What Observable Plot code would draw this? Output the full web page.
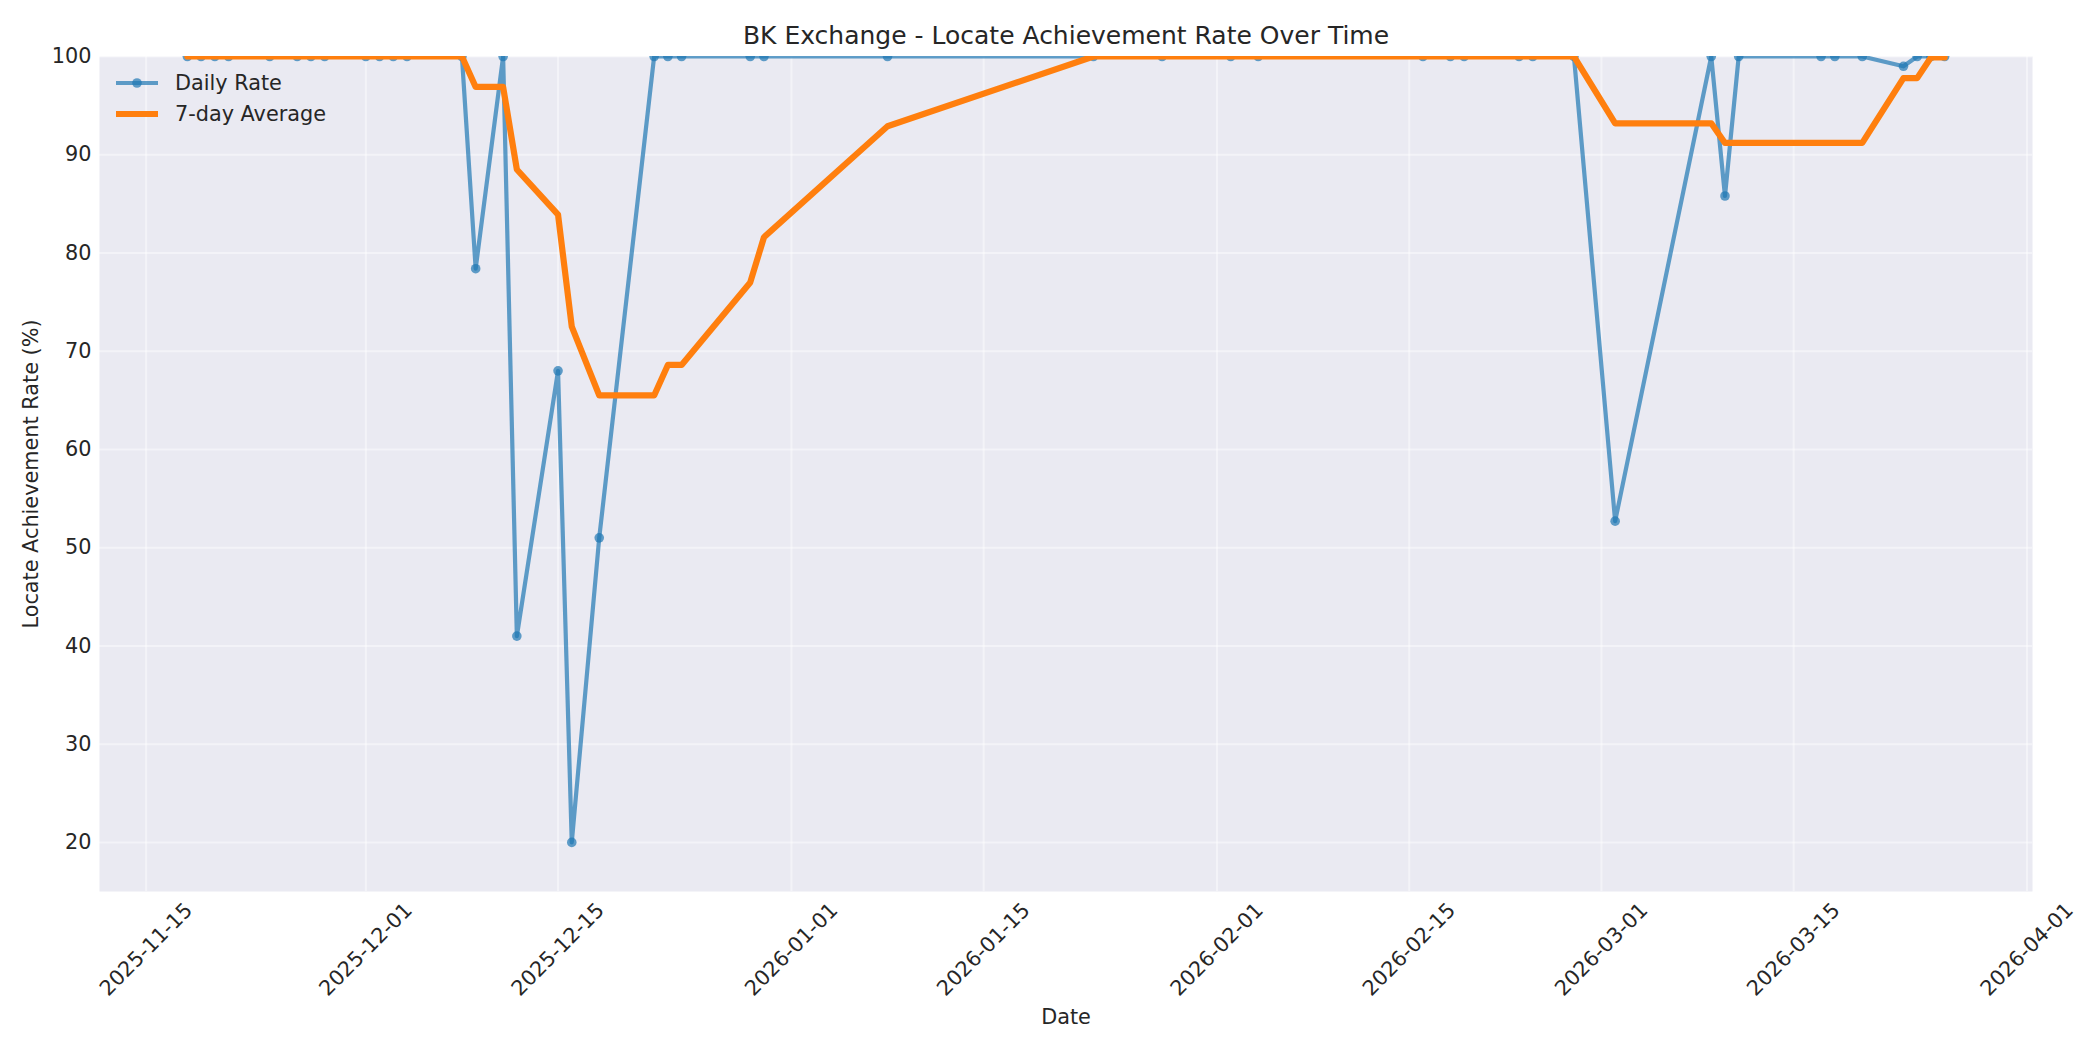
<!DOCTYPE html>
<html><head><meta charset="utf-8">
<script src="https://cdn.jsdelivr.net/npm/d3@7"></script>
<script src="https://cdn.jsdelivr.net/npm/@observablehq/plot@0.6"></script>
<style>
body{margin:0;background:#fff;font-family:"DejaVu Sans",sans-serif;}
#wrap{position:relative;width:2100px;height:1050px;}
.lg{position:absolute;left:116px;display:flex;align-items:center;font-size:20.8px;color:#262626;height:30px;}
.lg svg{margin-right:17px;}
</style></head><body><div id="wrap"></div>
<script>
// ---- data ----
const dates = [
  "2025-11-18","2025-11-19","2025-11-20","2025-11-21","2025-11-24","2025-11-26","2025-11-27","2025-11-28",
  "2025-12-01","2025-12-02","2025-12-03","2025-12-04","2025-12-08","2025-12-09","2025-12-11","2025-12-12",
  "2025-12-15","2025-12-16","2025-12-18","2025-12-22","2025-12-23","2025-12-24","2025-12-29","2025-12-30",
  "2026-01-08","2026-01-23","2026-01-28",
  "2026-02-02","2026-02-04","2026-02-16","2026-02-18","2026-02-19","2026-02-23","2026-02-24","2026-02-27",
  "2026-03-02","2026-03-09","2026-03-10","2026-03-11","2026-03-17","2026-03-18","2026-03-20","2026-03-23",
  "2026-03-24","2026-03-25","2026-03-26"
];
const dailyRate = [
  100,100,100,100,100,100,100,100,
  100,100,100,100,100,78.4,100,41.0,
  68.0,20.0,51.0,100,100,100,100,100,
  100,100,100,
  100,100,100,100,100,100,100,100,
  52.7,100,85.8,100,100,100,100,99.0,
  100,100,100
];
const avg7 = [
  100,100,100,100,100,100,100,100,
  100,100,100,100,100,96.9,96.9,88.5,
  83.9,72.5,65.5,65.5,68.6,68.6,77.0,81.6,
  92.9,100,100,
  100,100,100,100,100,100,100,100,
  93.2,93.2,91.2,91.2,91.2,91.2,91.2,97.8,
  97.8,99.9,99.9
];
const xTickLabels = ["2025-11-15","2025-12-01","2025-12-15","2026-01-01","2026-01-15","2026-02-01","2026-02-15","2026-03-01","2026-03-15","2026-04-01"];
const yTicks = [20,30,40,50,60,70,80,90,100];
const titleText = "BK Exchange - Locate Achievement Rate Over Time";
const xLabel = "Date";
const yLabel = "Locate Achievement Rate (%)";
const seriesNames = ["Daily Rate","7-day Average"];

// ---- build ----
const parse = d3.utcParse("%Y-%m-%d");
const daily = dates.map((d,i)=>({date:parse(d), value:dailyRate[i]}));
const avg = dates.map((d,i)=>({date:parse(d), value:avg7[i]}));
const xTicks = xTickLabels.map(parse);
const first = parse(dates[0]), last = parse(dates[dates.length-1]);
const pad = (last - first) * 0.05;
const fs = 20.8;

const chart = Plot.plot({
  width: 2100, height: 1050,
  marginTop: 56, marginBottom: 159, marginLeft: 99, marginRight: 68,
  style: {fontFamily: '"DejaVu Sans", sans-serif', color: "#262626", background: "#fff", overflow: "visible"},
  x: {type: "utc", domain: [new Date(+first - pad), new Date(+last + pad)]},
  y: {domain: [15, 100]},
  marks: [
    Plot.frame({fill: "#eaeaf2", stroke: null}),
    Plot.gridX({ticks: xTicks, stroke: "#ffffff", strokeOpacity: 0.45, strokeWidth: 2}),
    Plot.gridY({ticks: yTicks, stroke: "#ffffff", strokeOpacity: 0.45, strokeWidth: 2}),
    Plot.axisX({ticks: xTicks, tickFormat: d3.utcFormat("%Y-%m-%d"), tickSize: 0, tickPadding: 58,
      tickRotate: -45, textAnchor: "middle", lineAnchor: "middle", fontSize: fs, label: null}),
    Plot.axisY({ticks: yTicks, tickSize: 0, tickPadding: 8, fontSize: fs, label: null}),
    Plot.line(daily, {x: "date", y: "value", stroke: "#1f77b4", strokeOpacity: 0.7, strokeWidth: 4.2, clip: true}),
    Plot.dot(daily, {x: "date", y: "value", r: 4.8, fill: "#1f77b4", fillOpacity: 0.7, stroke: null, clip: true}),
    Plot.line(avg, {x: "date", y: "value", stroke: "#ff7f0e", strokeWidth: 6.2, clip: true}),
    Plot.text([titleText], {frameAnchor: "top", dy: -30, fontSize: 25, fill: "#262626"}),
    Plot.text([xLabel], {frameAnchor: "bottom", dy: 132, fontSize: 20.8, fill: "#262626"}),
    Plot.text([yLabel], {frameAnchor: "left", dx: -68, rotate: -90, textAnchor: "middle", fontSize: 20.8, fill: "#262626"})
  ]
});
const wrap = document.getElementById("wrap");
wrap.appendChild(chart);

// legend (upper left, inside the axes)
const rows = [
  {name: seriesNames[0], y: 83, svg: '<svg width="42" height="14"><line x1="0" y1="7" x2="42" y2="7" stroke="#1f77b4" stroke-opacity="0.7" stroke-width="4.2"/><circle cx="21" cy="7" r="4.8" fill="#1f77b4" fill-opacity="0.7"/></svg>'},
  {name: seriesNames[1], y: 114, svg: '<svg width="42" height="14"><line x1="0" y1="7" x2="42" y2="7" stroke="#ff7f0e" stroke-width="6.2"/></svg>'}
];
for (const r of rows) {
  const div = document.createElement("div");
  div.className = "lg";
  div.style.top = (r.y - 15) + "px";
  div.innerHTML = r.svg + "<span>" + r.name + "</span>";
  wrap.appendChild(div);
}
</script>
</body></html>
